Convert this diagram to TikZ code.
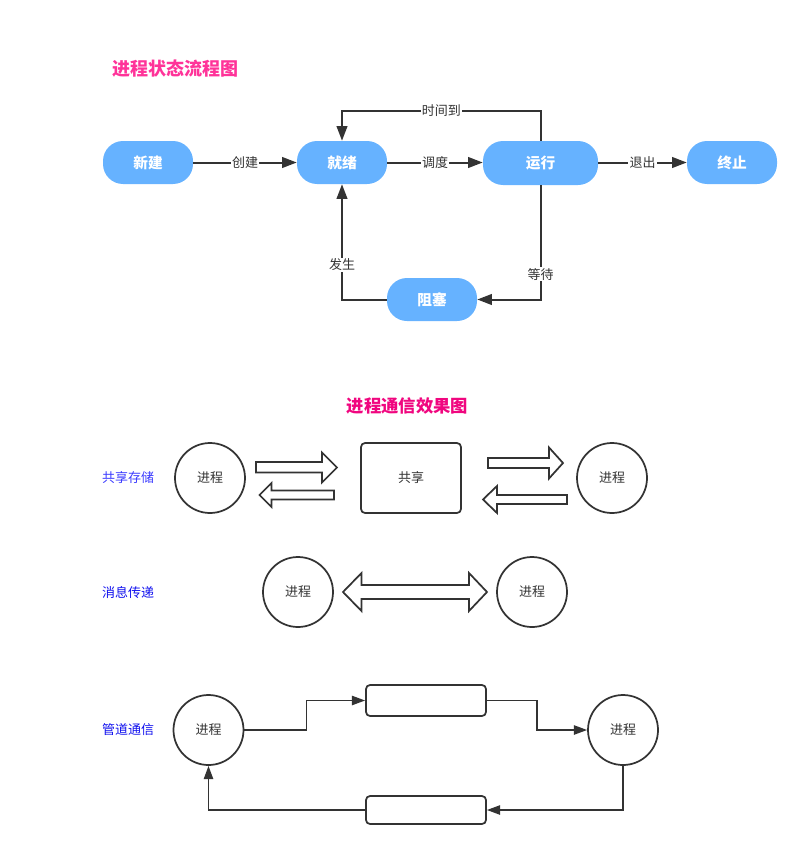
\documentclass[tikz,border=0pt]{standalone}
\usepackage{fontspec}
\newfontfamily\cjk{Noto Sans CJK SC}
\usetikzlibrary{arrows.meta}
\definecolor{pill}{HTML}{66B2FF}
\definecolor{ink}{HTML}{333333}
\definecolor{titleA}{HTML}{FF3399}
\definecolor{titleB}{HTML}{F0067F}
\definecolor{rowA}{HTML}{3A3AFF}
\definecolor{rowB}{HTML}{1010EE}
\begin{document}
\begin{tikzpicture}[x=0.75pt,y=-0.75pt,font=\cjk,
  state/.style={fill=pill,draw=none,rounded corners=15pt,minimum width=67.5pt,
    minimum height=32.25pt,inner sep=0pt,text=white,
    font=\cjk\bfseries\fontsize{11}{13}\selectfont},
  flow/.style={draw=ink,line width=1.5pt,-{Triangle[length=11pt,width=8pt]}},
  lbl/.style={fill=white,inner sep=0.8pt,text=ink,font=\cjk\fontsize{9.75}{12}\selectfont},
  proc/.style={circle,draw=ink,line width=1.3pt,minimum size=52.5pt,inner sep=0pt,
    text=ink,font=\cjk\fontsize{9.75}{12}\selectfont},
  boxed/.style={draw=ink,line width=1.3pt,rounded corners=3pt,inner sep=0pt,
    text=ink,font=\cjk\fontsize{9.75}{12}\selectfont},
  block/.style={draw=ink,line width=1.3pt,fill=white,line join=miter},
  pipe/.style={draw=ink,line width=1.3pt,-{Triangle[length=10pt,width=7pt]}},
  rowlbl/.style={font=\cjk\fontsize{9.75}{12}\selectfont},
  heading/.style={font=\cjk\bfseries\fontsize{13.5}{16}\selectfont}]
\useasboundingbox (0,0) rectangle (809,856);

% ---------- process state flow ----------
\node[heading,text=titleA] (title1) at (175.5,69) {进程状态流程图};

\node[state] (xinjian) at (148,162.5) {新建};
\node[state] (jiuxu) at (342,162.5) {就绪};
\node[state,minimum width=86.25pt,minimum height=33pt] (yunxing) at (540.5,163) {运行};
\node[state] (zhongzhi) at (732,162.5) {终止};
\node[state] (zusai) at (432,299.5) {阻塞};

\coordinate (timeTop) at (540.5,111);

\draw[flow] (xinjian) -- node[lbl]{创建} (jiuxu);
\draw[flow] (jiuxu.east) -- node[lbl]{调度} (jiuxu.east -| yunxing.west);
\draw[flow] (zhongzhi.west -| yunxing.east) -- node[lbl]{退出} (zhongzhi.west);
\draw[flow] (yunxing.north) -- (timeTop) -- node[lbl]{时间到} (timeTop -| jiuxu) -- (jiuxu.north);
\draw[flow] (yunxing.south) -- node[lbl,pos=0.78]{等待} (yunxing.south |- zusai) -- (zusai.east);
\draw[flow] (zusai.west) -- (zusai.west -| jiuxu) -- node[lbl,pos=0.3]{发生} (jiuxu.south);

% ---------- inter-process communication ----------
\node[heading,text=titleB,font=\cjk\bfseries\fontsize{13}{16}\selectfont] (title2) at (407.5,406) {进程通信效果图};

% shared memory
\node[rowlbl,text=rowA] (lshare) at (128,478) {共享存储};
\node[proc] (pa) at (210,478) {进程};
\node[boxed,minimum width=75pt,minimum height=52.5pt] (share) at (411,478) {共享};
\node[proc] (pb) at (612,478) {进程};

\draw[block] (256,462) -- (322,462) -- (322,452.5) -- (337,467.5) -- (322,482.5)
  -- (322,472.5) -- (256,472.5) -- cycle;
\draw[block] (334,490.5) -- (271.5,490.5) -- (271.5,483) -- (259.5,495) -- (271.5,507)
  -- (271.5,499.5) -- (334,499.5) -- cycle;
\draw[block] (488,458) -- (549,458) -- (549,447.5) -- (563,463) -- (549,478.5)
  -- (549,468) -- (488,468) -- cycle;
\draw[block] (567,495) -- (497,495) -- (497,486) -- (483,499.5) -- (497,513)
  -- (497,504) -- (567,504) -- cycle;

% message passing
\node[rowlbl,text=rowB] (lmsg) at (128,592) {消息传递};
\node[proc] (pc) at (298,592) {进程};
\node[proc] (pd) at (532,592) {进程};

\draw[block] (343,592) -- (361.5,573) -- (361.5,585) -- (469,585) -- (469,573) -- (487,592)
  -- (469,611) -- (469,599) -- (361.5,599) -- (361.5,611) -- cycle;

% pipes
\node[rowlbl,text=rowB] (lpipe) at (128,730) {管道通信};
\node[proc] (pe) at (208.5,730) {进程};
\node[proc] (pf) at (623,730) {进程};
\node[boxed,minimum width=90pt,minimum height=23.25pt] (pipeA) at (426,700.5) {};
\node[boxed,minimum width=90pt,minimum height=21pt] (pipeB) at (426,810) {};

\draw[pipe] (pe.east) -- ++(62,0) |- (pipeA.west);
\draw[pipe] (pipeA.east) -- ++(50,0) |- (pf.west);
\draw[pipe] (pf.south) |- (pipeB.east);
\draw[pipe] (pipeB.west) -| (pe.south);
\end{tikzpicture}
\end{document}
